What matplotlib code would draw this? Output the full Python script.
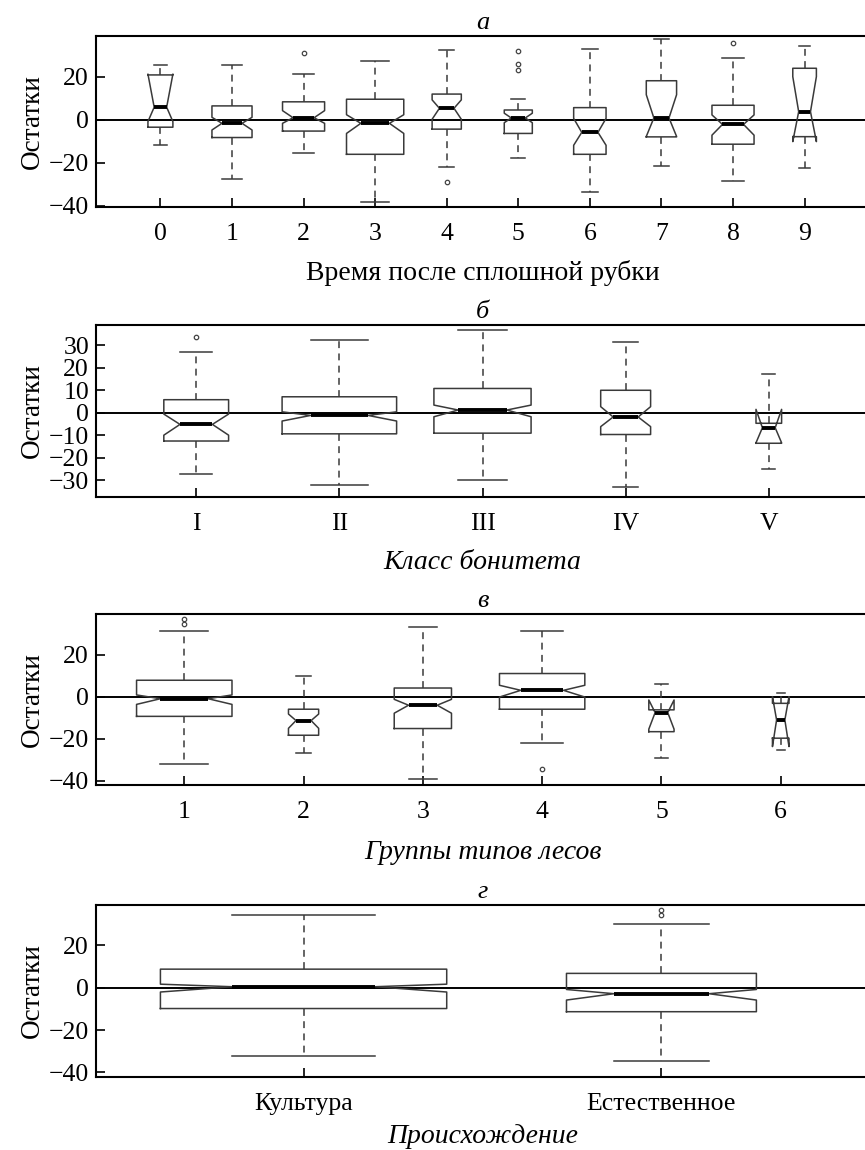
import matplotlib
matplotlib.use("Agg")
import matplotlib.pyplot as plt
import numpy as np

plt.rcParams['font.family'] = ['Liberation Serif', 'DejaVu Serif']

# ---------------- Panel а: time after clear-cut ----------------
a_labels = ['0', '1', '2', '3', '4', '5', '6', '7', '8', '9']
a_whislo = [-11.8, -27.7, -15.3, -38.1, -22.0, -18.0, -33.6, -21.7, -28.4, -22.6]
a_q1 = [-3.5, -8.3, -5.3, -16.1, -4.4, -6.4, -16.1, -8.0, -11.4, -7.9]
a_cilo = [-0.9, -4.8, -1.7, -6.4, 0.2, -1.4, -11.9, -7.8, -7.2, -10.2]
a_med = [5.8, -1.7, 0.9, -1.7, 5.3, 0.8, -5.9, 0.8, -2.2, 3.7]
a_cihi = [21.2, 1.1, 4.2, 2.3, 9.2, 3.0, 0.6, 11.6, 2.2, 20.0]
a_q3 = [20.8, 6.4, 8.3, 9.5, 11.9, 4.5, 5.6, 18.1, 6.7, 23.9]
a_whishi = [25.6, 25.6, 21.1, 27.3, 32.3, 9.8, 33.0, 37.3, 28.8, 34.3]
a_fliers = [[], [], [30.9], [], [-28.9], [31.7, 25.9, 23.1], [], [], [35.5], []]
a_n = [19, 49, 54, 100, 26, 24, 32, 28, 54, 17]

# ---------------- Panel б: site class ----------------
b_labels = ['I', 'II', 'III', 'IV', 'V']
b_whislo = [-27.3, -32.2, -30.0, -33.3, -25.2]
b_q1 = [-12.6, -9.4, -9.1, -9.7, -13.6]
b_cilo = [-10.0, -3.7, -1.8, -6.2, -13.4]
b_med = [-5.2, -1.2, 1.2, -1.9, -6.7]
b_cihi = [-0.6, 0.4, 3.4, 2.7, 1.5]
b_q3 = [5.8, 7.1, 10.8, 10.0, -4.7]
b_whishi = [26.9, 32.5, 36.7, 31.5, 17.2]
b_fliers = [[33.7], [], [], [], []]
b_n = [32, 100, 72, 19, 5]

# ---------------- Panel в: forest type groups ----------------
c_labels = ['1', '2', '3', '4', '5', '6']
c_whislo = [-32.1, -27.0, -39.2, -22.2, -29.3, -25.4]
c_q1 = [-9.4, -18.4, -15.2, -6.0, -16.7, -19.8]
c_cilo = [-3.7, -15.1, -7.9, -0.2, -15.5, -23.8]
c_med = [-1.0, -11.4, -4.1, 3.0, -7.6, -11.1]
c_cihi = [0.8, -8.3, -1.3, 5.4, -1.6, 0.0]
c_q3 = [7.8, -6.0, 4.1, 11.0, -6.3, -3.2]
c_whishi = [31.3, 9.8, 33.0, 31.3, 6.0, 1.6]
c_fliers = [[36.8, 34.6], [], [], [-34.6], [], []]
c_n = [100, 10, 36, 80, 7, 3]

# ---------------- Panel г: origin ----------------
d_labels = ['Культура', 'Естественное']
d_whislo = [-32.1, -34.5]
d_q1 = [-9.8, -11.3]
d_cilo = [-2.0, -5.8]
d_med = [0.5, -2.8]
d_cihi = [1.7, -0.8]
d_q3 = [8.8, 6.8]
d_whishi = [34.3, 30.1]
d_fliers = [[], [36.7, 34.3]]
d_n = [100, 44]

panels = [
    dict(title='а', xlabel='Время после сплошной рубки', xl_italic=False,
         labels=a_labels, whislo=a_whislo, q1=a_q1, cilo=a_cilo, med=a_med,
         cihi=a_cihi, q3=a_q3, whishi=a_whishi, fliers=a_fliers, n=a_n,
         ylim=(-40.6, 38.9), yticks=[-40, -20, 0, 20], top=36, bottom=207, lp=11),
    dict(title='б', xlabel='Класс бонитета', xl_italic=True,
         labels=b_labels, whislo=b_whislo, q1=b_q1, cilo=b_cilo, med=b_med,
         cihi=b_cihi, q3=b_q3, whishi=b_whishi, fliers=b_fliers, n=b_n,
         ylim=(-37.4, 39.2), yticks=[-30, -20, -10, 0, 10, 20, 30], top=324.7, bottom=496.7, lp=11),
    dict(title='в', xlabel='Группы типов лесов', xl_italic=True,
         labels=c_labels, whislo=c_whislo, q1=c_q1, cilo=c_cilo, med=c_med,
         cihi=c_cihi, q3=c_q3, whishi=c_whishi, fliers=c_fliers, n=c_n,
         ylim=(-42.1, 39.5), yticks=[-40, -20, 0, 20], top=613.7, bottom=785, lp=12),
    dict(title='г', xlabel='Происхождение', xl_italic=True,
         labels=d_labels, whislo=d_whislo, q1=d_q1, cilo=d_cilo, med=d_med,
         cihi=d_cihi, q3=d_q3, whishi=d_whishi, fliers=d_fliers, n=d_n,
         ylim=(-42.0, 39.1), yticks=[-40, -20, 0, 20], top=905, bottom=1076.7, lp=6.5),
]

W, H = 865, 1150
fig = plt.figure(figsize=(W / 100, H / 100), dpi=100)

box_col = '#3a3a3a'
FS_TICK = 18.5
FS_XLAB = 20
FS_YLAB = 19.5
FS_TITLE = 19

for p in panels:
    left = 96 / W
    width = (869 - 96) / W
    bottom = 1 - p['bottom'] / H
    height = (p['bottom'] - p['top']) / H
    ax = fig.add_axes([left, bottom, width, height])

    k = len(p['labels'])
    nmax = max(p['n'])
    widths = [0.8 * np.sqrt(n / nmax) for n in p['n']]
    stats = []
    for i in range(k):
        stats.append(dict(label=p['labels'][i], whislo=p['whislo'][i], q1=p['q1'][i],
                          cilo=p['cilo'][i], med=p['med'][i], cihi=p['cihi'][i],
                          q3=p['q3'][i], whishi=p['whishi'][i],
                          fliers=np.array(p['fliers'][i])))
    pos = np.arange(1, k + 1)
    ax.axhline(0, color='black', lw=1.4, zorder=1)
    ax.bxp(stats, positions=pos, widths=widths, shownotches=True, patch_artist=False,
           boxprops=dict(color=box_col, lw=1.1),
           whiskerprops=dict(color=box_col, lw=1.1, linestyle=(0, (4.5, 3.5))),
           capprops=dict(color=box_col, lw=1.1),
           medianprops=dict(color='black', lw=2.8, solid_capstyle='butt'),
           flierprops=dict(marker='o', markersize=3.2, markerfacecolor='none',
                           markeredgecolor='#444444', markeredgewidth=0.9),
           zorder=2)

    ext = 0.04 * k
    ax.set_xlim(0.5 - ext, k + 0.5 + ext)
    ax.set_ylim(*p['ylim'])
    ax.set_yticks(p['yticks'])
    ax.set_yticklabels([('−' + str(abs(t))) if t < 0 else str(t) for t in p['yticks']])
    ax.set_xticks(pos)
    ax.set_xticklabels(p['labels'])
    ax.tick_params(direction='in', length=6.5, width=1.2, labelsize=FS_TICK)
    ax.tick_params(axis='x', pad=11.5)
    ax.tick_params(axis='y', pad=5)
    for s in ['left', 'top', 'bottom']:
        ax.spines[s].set_linewidth(1.5)
    ax.spines['right'].set_visible(False)

    ax.set_title(p['title'], fontsize=FS_TITLE, style='italic', pad=5)
    ax.set_xlabel(p['xlabel'], fontsize=FS_XLAB,
                  style='italic' if p['xl_italic'] else 'normal', labelpad=p['lp'])
    ax.set_ylabel('Остатки', fontsize=FS_YLAB, labelpad=3)

fig.savefig('out.png', dpi=100)
